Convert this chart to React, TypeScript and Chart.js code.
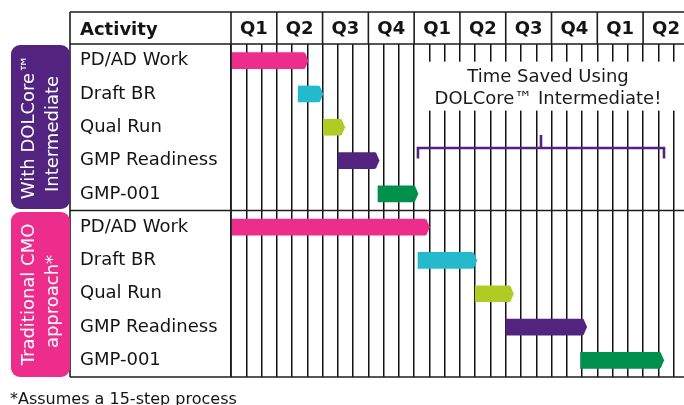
import React, { useEffect, useRef } from 'react';
import { Chart, registerables } from 'chart.js';

Chart.register(...registerables);

const activities = ['PD/AD Work', 'Draft BR', 'Qual Run', 'GMP Readiness', 'GMP-001'];
const rowLabels = [...activities, ...activities];
const quarterLabels = ['Q1', 'Q2', 'Q3', 'Q4', 'Q1', 'Q2', 'Q3', 'Q4', 'Q1', 'Q2'];
const dolcoreStart = [0, 4.4, 6.05, 7.0, 9.63];
const dolcoreEnd = [4.75, 5.72, 7.15, 9.4, 11.95];
const traditionalStart = [0, 12.25, 16.0, 18.0, 22.9];
const traditionalEnd = [12.7, 15.8, 18.2, 23.0, 28.05];
const barColors = ['#EC2D8B', '#25B9CE', '#B1CB25', '#52247F', '#00904C'];
const sectionLabels = [['With DOLCore™', 'Intermediate'], ['Traditional CMO', 'approach*']];
const sectionColors = ['#52247F', '#EC2D8B'];
const savedNote = ['Time Saved Using', 'DOLCore™ Intermediate!'];
const savedFrom = 12.25;
const savedTo = 28.37;
const totalMonths = 29.68;
const headerTitle = 'Activity';
const footnote = '*Assumes a 15-step process';

const FONT = '"DejaVu Sans", Verdana, sans-serif';
const INK = '#141414';

const tablePlugin = {
  id: 'ganttTable',
  beforeDatasetsDraw(chart: any) {
    const { ctx, chartArea } = chart;
    const x = chart.scales.x;
    const y = chart.scales.y;
    // white box behind note
    const left = x.getPixelForValue(savedFrom) + 2;
    const top = y.getPixelForValue(0) + 1;
    const bottom = (y.getPixelForValue(1) + y.getPixelForValue(2)) / 2;
    ctx.save();
    ctx.fillStyle = '#ffffff';
    ctx.fillRect(left, top, chartArea.right - left, bottom - top);
    ctx.fillStyle = '#1a1a1a';
    ctx.font = `18px ${FONT}`;
    ctx.textAlign = 'center';
    ctx.textBaseline = 'alphabetic';
    const cx = x.getPixelForValue((savedFrom + savedTo) / 2) + 7;
    const b2 = y.getPixelForValue(1) + 10;
    ctx.fillText(savedNote[0], cx, b2 - 21.5);
    ctx.fillText(savedNote[1], cx, b2);
    ctx.restore();
  },
  afterDatasetsDraw(chart: any) {
    const { ctx } = chart;
    const meta = chart.getDatasetMeta(0);
    ctx.save();
    meta.data.forEach((bar: any, i: number) => {
      const h = bar.height;
      ctx.fillStyle = barColors[i % barColors.length];
      ctx.beginPath();
      ctx.moveTo(bar.x - 0.5, bar.y - h / 2);
      ctx.lineTo(bar.x + 1.5, bar.y - h / 2);
      ctx.lineTo(bar.x + 5, bar.y);
      ctx.lineTo(bar.x + 1.5, bar.y + h / 2);
      ctx.lineTo(bar.x - 0.5, bar.y + h / 2);
      ctx.closePath();
      ctx.fill();
    });
    // bracket
    const x = chart.scales.x;
    const y = chart.scales.y;
    const x0 = x.getPixelForValue(savedFrom);
    const x1 = x.getPixelForValue(savedTo);
    const xm = (x0 + x1) / 2;
    const by = y.getPixelForValue(3) - 12.5;
    ctx.strokeStyle = '#52247F';
    ctx.lineWidth = 2.6;
    ctx.lineCap = 'butt';
    ctx.beginPath();
    ctx.moveTo(x0, by + 10.5);
    ctx.lineTo(x0, by);
    ctx.lineTo(x1, by);
    ctx.lineTo(x1, by + 10.5);
    ctx.moveTo(xm, by);
    ctx.lineTo(xm, by - 13);
    ctx.stroke();
    ctx.restore();
  },
  afterDraw(chart: any) {
    const { ctx, chartArea, width } = chart;
    const x = chart.scales.x;
    const y = chart.scales.y;
    const tableLeft = 70;
    const headerTop = 12;
    const sepY = (y.getPixelForValue(4) + y.getPixelForValue(5)) / 2;
    ctx.save();
    ctx.strokeStyle = '#1e1e1e';
    ctx.lineWidth = 1.6;
    ctx.beginPath();
    // horizontal lines
    [headerTop, chartArea.top, sepY, chartArea.bottom].forEach((yy) => {
      ctx.moveTo(tableLeft, yy);
      ctx.lineTo(width, yy);
    });
    // left border and activity column border
    ctx.moveTo(tableLeft, headerTop);
    ctx.lineTo(tableLeft, chartArea.bottom);
    ctx.moveTo(chartArea.left, headerTop);
    ctx.lineTo(chartArea.left, chartArea.bottom);
    // quarter separators in header
    for (let q = 1; q < quarterLabels.length; q++) {
      const px = x.getPixelForValue(q * 3);
      ctx.moveTo(px, headerTop);
      ctx.lineTo(px, chartArea.top);
    }
    ctx.stroke();

    // header title
    ctx.fillStyle = INK;
    ctx.font = `bold 18px ${FONT}`;
    ctx.textAlign = 'left';
    ctx.textBaseline = 'alphabetic';
    ctx.fillText(headerTitle, y.left, 35);

    // section boxes
    const boxes = [
      [chartArea.top + 1, sepY - 1.5],
      [sepY + 1.5, chartArea.bottom],
    ];
    boxes.forEach(([t, b], i) => {
      ctx.fillStyle = sectionColors[i];
      ctx.beginPath();
      (ctx as any).roundRect(11, t, tableLeft - 11, b - t, 9);
      ctx.fill();
      ctx.save();
      const cy = (t + b) / 2;
      ctx.translate(40.5, cy);
      ctx.rotate(-Math.PI / 2);
      ctx.fillStyle = '#ffffff';
      ctx.font = `18px ${FONT}`;
      ctx.textAlign = 'center';
      ctx.textBaseline = 'alphabetic';
      ctx.fillText(sectionLabels[i][0], 0, -7);
      ctx.fillText(sectionLabels[i][1], -7, 17);
      ctx.restore();
    });

    // footnote
    ctx.fillStyle = INK;
    ctx.font = `16px ${FONT}`;
    ctx.textAlign = 'left';
    ctx.fillText(footnote, 10, 404);
    ctx.restore();
  },
};

export default function App() {
  const ref = useRef<HTMLCanvasElement | null>(null);
  useEffect(() => {
    if (!ref.current) return;
    const data = rowLabels.map((_, i) =>
      i < activities.length
        ? [dolcoreStart[i], dolcoreEnd[i]]
        : [traditionalStart[i - activities.length], traditionalEnd[i - activities.length]]
    );
    const colors = rowLabels.map((_, i) => barColors[i % barColors.length]);
    const chart = new Chart(ref.current, {
      type: 'bar',
      data: {
        labels: rowLabels,
        datasets: [
          {
            data: data as any,
            backgroundColor: colors,
            borderWidth: 0,
            borderSkipped: false,
            barThickness: 16,
          },
        ],
      },
      options: {
        indexAxis: 'y',
        responsive: false,
        animation: false,
        events: [],
        layout: { padding: { left: 80, top: 12, bottom: 28, right: 0 } },
        plugins: { legend: { display: false }, tooltip: { enabled: false } },
        scales: {
          x: {
            type: 'linear',
            position: 'bottom',
            min: 0,
            max: totalMonths,
            grid: { color: '#111111', lineWidth: 1.5, drawTicks: false },
            border: { display: false },
            ticks: { display: false, stepSize: 1, includeBounds: false } as any,
            afterFit: (s: any) => {
              s.height = 0;
            },
          },
          x2: {
            type: 'linear',
            position: 'top',
            min: 0,
            max: totalMonths,
            grid: { display: false, drawTicks: false },
            border: { display: false },
            afterBuildTicks: (s: any) => {
              s.ticks = quarterLabels.map((_, i) => ({ value: i * 3 + 1.5 }));
            },
            ticks: {
              autoSkip: false,
              maxRotation: 0,
              padding: 4,
              color: INK,
              font: { family: FONT, size: 18, weight: 'bold' },
              callback: (_v: any, i: number) => quarterLabels[i],
            },
            afterFit: (s: any) => {
              s.height = 32;
            },
          },
          y: {
            type: 'category',
            position: 'left',
            grid: { display: false, drawTicks: false },
            border: { display: false },
            ticks: {
              crossAlign: 'far',
              padding: 0,
              color: INK,
              font: { family: FONT, size: 18 },
              autoSkip: false,
            },
            afterFit: (s: any) => {
              s.width = 151;
            },
          },
        },
      },
      plugins: [tablePlugin],
    });
    return () => chart.destroy();
  }, []);
  return (
    <div style={{ position: 'fixed', left: 0, top: 0, width: 684, height: 405, background: '#fff' }}>
      <canvas ref={ref} width={684} height={405} style={{ display: 'block' }} />
    </div>
  );
}
